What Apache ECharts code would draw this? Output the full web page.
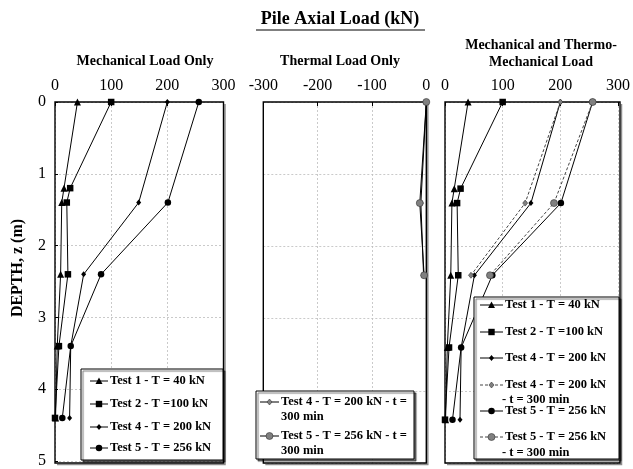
<!DOCTYPE html>
<html>
<head>
<meta charset="utf-8">
<script src="https://cdn.jsdelivr.net/npm/echarts@6/dist/echarts.min.js"></script>
<style>
  html, body { margin: 0; padding: 0; background: #fff; }
  #chart { width: 633px; height: 469px; }
</style>
</head>
<body>
<div id="chart"></div>
<script>
// Depths (m) of the strain-gauge levels
const depthMech12 = [0, 1.2, 1.4, 2.4, 3.4, 4.4];
const depthMech45 = [0, 1.4, 2.4, 3.4, 4.4];
const depthThermal = [0, 1.4, 2.4];

// Axial load (kN), mechanical load only
const test1 = [40, 16, 12, 10, 4, 1];
const test2 = [100, 27, 21, 23, 7, 0];
const test4 = [200, 149, 51, 28, 26];
const test5 = [256, 201, 82, 28, 13];

// Axial load (kN), thermal load only (t = 300 min)
const test4Thermal = [0, -10, -5];
const test5Thermal = [0, -12, -4];

// Axial load (kN), mechanical + thermal (t = 300 min)
const test4Combined = [200, 139, 45];
const test5Combined = [256, 189, 78];

// Axis tick values
const mechTicks = [0, 100, 200, 300];
const thermalTicks = [-300, -200, -100, 0];
const depthTicks = [0, 1, 2, 3, 4, 5];

const FONT = 'Liberation Serif';
const pair = (vals, depths) => vals.map((v, i) => [v, depths[i]]);

const grids = [
  { left: 55, top: 102, width: 168.5, height: 361 },
  { left: 263.3, top: 102, width: 163, height: 361 },
  { left: 445, top: 102, width: 175, height: 361 }
];

const splitStyle = { show: true, lineStyle: { color: '#bdbdbd', type: [2, 2], width: 0.8 } };

function xAxis(idx, ticks) {
  return {
    type: 'value', gridIndex: idx, position: 'top',
    min: ticks[0], max: ticks[ticks.length - 1], interval: 100,
    axisLine: { show: false },
    axisTick: { show: true, inside: true, length: 4, lineStyle: { color: '#000', width: 1 } },
    axisLabel: { color: '#000', fontFamily: FONT, fontSize: 16, margin: 8 },
    splitLine: splitStyle
  };
}
function yAxis(idx, showLabels) {
  return {
    type: 'value', gridIndex: idx, inverse: true,
    min: depthTicks[0], max: depthTicks[depthTicks.length - 1], interval: 1,
    axisLine: { show: false },
    axisTick: { show: showLabels, inside: true, length: 3, lineStyle: { color: '#000' } },
    axisLabel: { show: showLabels, color: '#000', fontFamily: FONT, fontSize: 16, margin: 9 },
    splitLine: splitStyle
  };
}

const black = '#000';
const grey = '#808080';
const solid = { color: black, width: 1 };
const dashed = { color: '#444', width: 1, type: [3, 2] };

const styles = {
  t1: { symbol: 'triangle', symbolSize: 7, itemStyle: { color: black }, lineStyle: solid },
  t2: { symbol: 'rect', symbolSize: 6.5, itemStyle: { color: black }, lineStyle: solid },
  t4: { symbol: 'diamond', symbolSize: [5, 6], itemStyle: { color: black }, lineStyle: solid },
  t5: { symbol: 'circle', symbolSize: 6.5, itemStyle: { color: black }, lineStyle: solid },
  t4th: { symbol: 'diamond', symbolSize: [5, 6], itemStyle: { color: grey, borderColor: '#333', borderWidth: 0.6 }, lineStyle: solid },
  t5th: { symbol: 'circle', symbolSize: 7, itemStyle: { color: grey, borderColor: '#333', borderWidth: 0.6 }, lineStyle: solid },
  t4c: { symbol: 'diamond', symbolSize: [5, 6], itemStyle: { color: grey, borderColor: '#333', borderWidth: 0.6 }, lineStyle: dashed },
  t5c: { symbol: 'circle', symbolSize: 7, itemStyle: { color: grey, borderColor: '#333', borderWidth: 0.6 }, lineStyle: dashed }
};

function line(name, idx, data, st) {
  return Object.assign({
    name, type: 'line', xAxisIndex: idx, yAxisIndex: idx, data,
    showAllSymbol: true, animation: false, z: 3,
    emphasis: { disabled: true }
  }, st);
}

const series = [
  line('Test 1 - T = 40 kN', 0, pair(test1, depthMech12), styles.t1),
  line('Test 2 - T =100 kN', 0, pair(test2, depthMech12), styles.t2),
  line('Test 4 - T = 200 kN', 0, pair(test4, depthMech45), styles.t4),
  line('Test 5 - T = 256 kN', 0, pair(test5, depthMech45), styles.t5),

  line('Test 4 - T = 200 kN - t = 300 min', 1, pair(test4Thermal, depthThermal), styles.t4th),
  line('Test 5 - T = 256 kN - t = 300 min', 1, pair(test5Thermal, depthThermal), styles.t5th),

  line('Test 1 - T = 40 kN', 2, pair(test1, depthMech12), styles.t1),
  line('Test 2 - T =100 kN', 2, pair(test2, depthMech12), styles.t2),
  line('Test 4 - T = 200 kN', 2, pair(test4, depthMech45), styles.t4),
  line('Test 5 - T = 256 kN', 2, pair(test5, depthMech45), styles.t5),
  line('Test 4 - T = 200 kN - t = 300 min', 2, pair(test4Combined, depthThermal), styles.t4c),
  line('Test 5 - T = 256 kN - t = 300 min', 2, pair(test5Combined, depthThermal), styles.t5c)
];

// ---- legend boxes drawn as graphics ----
const LEG_FONT = 'bold 12.5px "' + FONT + '"';

function markerShape(st, cx, cy) {
  const fill = st.itemStyle.color;
  const stroke = st.itemStyle.borderColor || fill;
  const style = { fill, stroke, lineWidth: st.itemStyle.borderWidth || 0 };
  if (st.symbol === 'triangle') {
    return { type: 'polygon', shape: { points: [[cx, cy - 3.5], [cx + 3.5, cy + 3], [cx - 3.5, cy + 3]] }, style, z: 102 };
  } else if (st.symbol === 'rect') {
    return { type: 'rect', shape: { x: cx - 3.2, y: cy - 3.2, width: 6.4, height: 6.4 }, style, z: 102 };
  } else if (st.symbol === 'diamond') {
    return { type: 'polygon', shape: { points: [[cx, cy - 3], [cx + 2.5, cy], [cx, cy + 3], [cx - 2.5, cy]] }, style, z: 102 };
  }
  return { type: 'circle', shape: { cx, cy, r: st.symbolSize / 2 }, style, z: 102 };
}

function legendBox(box, entries) {
  const els = [{
    type: 'rect', shape: { x: box.x, y: box.y, width: box.w, height: box.h },
    style: { fill: '#fff', stroke: '#000', lineWidth: 1, shadowColor: 'rgba(0,0,0,0.55)', shadowOffsetX: 2, shadowOffsetY: 2, shadowBlur: 1 },
    z: 100
  }];
  entries.forEach(e => {
    const st = e.style;
    const ls = st.lineStyle;
    const lh = e.lh || 14.5;
    els.push({
      type: 'line', shape: { x1: e.x1, y1: e.y, x2: e.x2, y2: e.y },
      style: { stroke: ls.color, lineWidth: 1, lineDash: Array.isArray(ls.type) ? ls.type : null },
      z: 101
    });
    els.push(markerShape(st, (e.x1 + e.x2) / 2, e.y));
    e.lines.forEach((t, k) => {
      els.push({
        type: 'text', x: k === 0 ? e.tx : (e.tx2 !== undefined ? e.tx2 : e.tx), y: e.y + k * lh,
        style: { text: t, font: LEG_FONT, fill: '#000', textVerticalAlign: 'middle', textAlign: 'left' },
        z: 103
      });
    });
  });
  return els;
}

const graphics = [];

// panel frames, with a soft drop shadow along the right and bottom edges
grids.forEach(g => {
  const r = g.left + g.width, b = g.top + g.height;
  graphics.push({
    type: 'polyline', shape: { points: [[r + 1.5, g.top + 2], [r + 1.5, b + 1.5], [g.left + 2, b + 1.5]] },
    style: { stroke: 'rgba(0,0,0,0.45)', lineWidth: 1.5, fill: null }, z: 1
  });
  graphics.push({
    type: 'rect', shape: { x: g.left, y: g.top, width: g.width, height: g.height },
    style: { stroke: '#000', lineWidth: 1.4, fill: null }, z: 1
  });
});

// panel-one legend
graphics.push(...legendBox({ x: 81, y: 369, w: 142, h: 91 }, [
  { y: 381, x1: 90, x2: 108, tx: 110, lines: ['Test 1 - T = 40 kN'], style: styles.t1 },
  { y: 404, x1: 90, x2: 108, tx: 110, lines: ['Test 2 - T =100 kN'], style: styles.t2 },
  { y: 427, x1: 90, x2: 108, tx: 110, lines: ['Test 4 - T = 200 kN'], style: styles.t4 },
  { y: 448, x1: 90, x2: 108, tx: 110, lines: ['Test 5 - T = 256 kN'], style: styles.t5 }
]));
// panel-two legend
graphics.push(...legendBox({ x: 256, y: 391, w: 158, h: 68 }, [
  { y: 402, x1: 260, x2: 279, tx: 281, lh: 14.5, lines: ['Test 4 - T = 200 kN - t =', '300 min'], style: styles.t4th },
  { y: 436, x1: 260, x2: 279, tx: 281, lh: 14.5, lines: ['Test 5 - T = 256 kN - t =', '300 min'], style: styles.t5th }
]));
// panel-three legend
graphics.push(...legendBox({ x: 474, y: 297, w: 145, h: 162 }, [
  { y: 305, x1: 480, x2: 503, tx: 505, lines: ['Test 1 - T = 40 kN'], style: styles.t1 },
  { y: 332, x1: 480, x2: 503, tx: 505, lines: ['Test 2 - T =100 kN'], style: styles.t2 },
  { y: 358, x1: 480, x2: 503, tx: 505, lines: ['Test 4 - T = 200 kN'], style: styles.t4 },
  { y: 385, x1: 480, x2: 503, tx: 505, tx2: 502, lh: 14.5, lines: ['Test 4 - T = 200 kN', '- t = 300 min'], style: styles.t4c },
  { y: 411, x1: 480, x2: 503, tx: 505, lines: ['Test 5 - T = 256 kN'], style: styles.t5 },
  { y: 437, x1: 480, x2: 503, tx: 505, tx2: 502, lh: 16, lines: ['Test 5 - T = 256 kN', '- t = 300 min'], style: styles.t5c }
]));

// main title with underline
graphics.push({
  type: 'text', x: 340, y: 19,
  style: { text: 'Pile Axial Load (kN)', font: 'bold 18px "' + FONT + '"', fill: '#000', textAlign: 'center', textVerticalAlign: 'middle' },
  z: 110
});
graphics.push({ type: 'line', shape: { x1: 256, y1: 30, x2: 425, y2: 30 }, style: { stroke: '#000', lineWidth: 1.2 }, z: 110 });

// panel titles
const subFont = 'bold 14px "' + FONT + '"';
[
  { x: 145, y: 61, t: 'Mechanical Load Only' },
  { x: 340, y: 61, t: 'Thermal Load Only' },
  { x: 541, y: 45, t: 'Mechanical and Thermo-' },
  { x: 541, y: 62, t: 'Mechanical Load' }
].forEach(p => graphics.push({
  type: 'text', x: p.x, y: p.y,
  style: { text: p.t, font: subFont, fill: '#000', textAlign: 'center', textVerticalAlign: 'middle' },
  z: 110
}));

// y-axis name
graphics.push({
  type: 'text', x: 18, y: 268, rotation: Math.PI / 2,
  style: { text: 'DEPTH, z (m)', font: 'bold 16px "' + FONT + '"', fill: '#000', textAlign: 'center', textVerticalAlign: 'middle' },
  z: 110
});

const chart = echarts.init(document.getElementById('chart'), null, { renderer: 'canvas' });
chart.setOption({
  backgroundColor: '#fff',
  animation: false,
  grid: grids.map(g => Object.assign({ show: false, containLabel: false }, g)),
  xAxis: [xAxis(0, mechTicks), xAxis(1, thermalTicks), xAxis(2, mechTicks)],
  yAxis: [yAxis(0, true), yAxis(1, false), yAxis(2, false)],
  series,
  graphic: graphics
});
</script>
</body>
</html>
